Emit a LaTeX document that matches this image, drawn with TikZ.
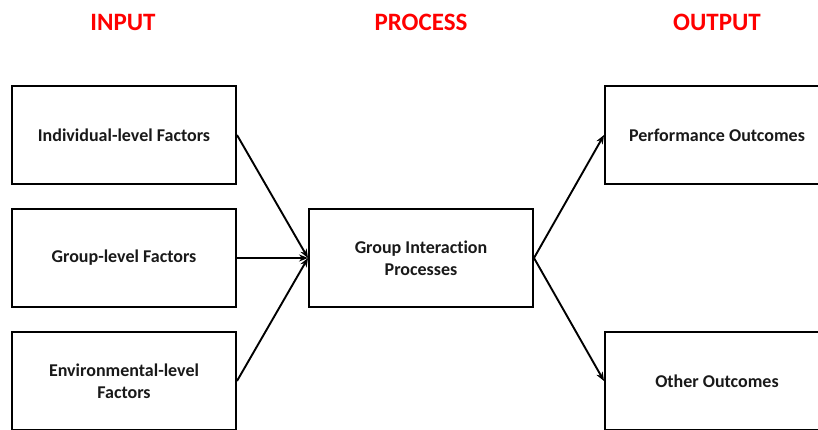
\documentclass[tikz,border=0pt]{standalone}
\usepackage{fontspec}
\setmainfont{Carlito}[Ligatures={NoCommon}]
\usetikzlibrary{arrows.meta}
\definecolor{headred}{RGB}{255,0,0}
\begin{document}
\begin{tikzpicture}[x=1pt,y=-1pt,
  factorbox/.style={draw=black,line width=2pt,minimum width=224pt,minimum height=98pt,
    inner sep=0pt,align=center,font=\bfseries\fontsize{18}{22}\selectfont,text=black!90},
  header/.style={font=\bfseries\fontsize{25}{27}\selectfont,text=headred},
  link/.style={line width=1.9pt,-{Stealth[length=9pt,width=7pt]}}]
\useasboundingbox (0,0) rectangle (818,430);
% column headings
\node[header] (hin) at (123,22) {INPUT};
\node[header] (hpr) at (421,22) {PROCESS};
\node[header] (hout) at (717,22) {OUTPUT};
% input boxes
\node[factorbox] (ind) at (124,135) {Individual-level Factors};
\node[factorbox] (grp) at (124,258) {Group-level Factors};
\node[factorbox] (env) at (124,381) {Environmental-level\\Factors};
% process box
\node[factorbox] (proc) at (421,258) {Group Interaction\\Processes};
% output boxes
\node[factorbox] (perf) at (717,135) {Performance Outcomes};
\node[factorbox] (oth) at (717,381) {Other Outcomes};
% connectors
\draw[link] (ind.east) -- (proc.west);
\draw[link] (grp.east) -- (proc.west);
\draw[link] (env.east) -- (proc.west);
\draw[link] (proc.east) -- (perf.west);
\draw[link] (proc.east) -- (oth.west);
\end{tikzpicture}
\end{document}
